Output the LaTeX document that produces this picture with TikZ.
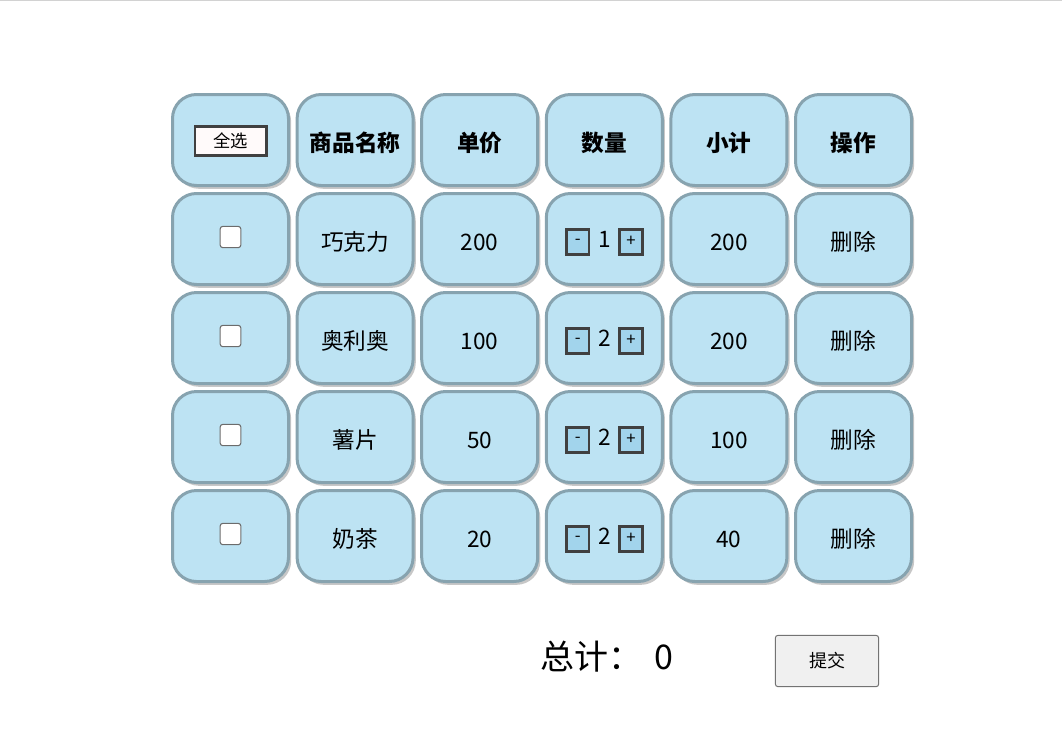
\documentclass[tikz,border=0pt]{standalone}
\usepackage{fontspec}
\setmainfont{Noto Sans CJK SC}
\usetikzlibrary{positioning,shadows}
\definecolor{cellblue}{HTML}{BDE3F3}
\definecolor{cellline}{HTML}{87A3AF}
\definecolor{btnblue}{HTML}{A2D4EC}
\definecolor{btnline}{HTML}{404040}
\tikzset{
  cell/.style={draw=cellline, fill=cellblue, line width=2.25pt, rounded corners=18pt,
    minimum width=87pt, minimum height=68.25pt, inner sep=0pt,
    text height=18pt, text depth=0.6pt,
    font=\fontsize{17}{17}\selectfont,
    drop shadow={shadow xshift=2pt, shadow yshift=-2.5pt, fill=black, opacity=0.22}},
  head/.style={cell, font=\fontsize{17}{17}\selectfont\bfseries},
  chkbox/.style={draw=gray!85!black, fill=white, line width=0.8pt, rounded corners=2pt,
    minimum width=15.5pt, minimum height=16pt, inner sep=0pt},
  qtybtn/.style={draw=btnline, fill=btnblue, line width=2pt, minimum width=17pt,
    minimum height=18.75pt, inner sep=0pt, font=\fontsize{12.5}{12.5}\selectfont},
  allbtn/.style={draw=btnline, fill=red!2, line width=1.9pt, minimum width=53.6pt,
    minimum height=21.4pt, inner sep=0pt, font=\fontsize{13}{13}\selectfont},
  submitbtn/.style={draw=gray!90!black, fill=gray!12, line width=0.75pt, rounded corners=2pt,
    minimum width=77.5pt, minimum height=38.5pt, font=\fontsize{13.5}{13.5}\selectfont}
}
\begin{document}
\begin{tikzpicture}[x=0.75pt, y=-0.75pt]
  \useasboundingbox (0,0) rectangle (1062,732);
  \draw[gray!35, line width=0.75pt] (0,0.5)--(1062,0.5);
  % header row
  \node[head] (hd1) at (230.5,140) {};
  \node[allbtn] (selall) at ([yshift=-0.75pt]hd1.center) {全选};
  \node[head] (hd2) at (355.1,140) {商品名称};
  \node[head] (hd3) at (479.7,140) {单价};
  \node[head] (hd4) at (604.3,140) {数量};
  \node[head] (hd5) at (728.9,140) {小计};
  \node[head] (hd6) at (853.5,140) {操作};
  % goods rows
  \foreach \name/\price/\qty/\sub [count=\r] in {巧克力/200/1/200, 奥利奥/100/2/200, 薯片/50/2/100, 奶茶/20/2/40} {
    \node[cell] (r\r c1) at (230.5,{140+99*\r}) {};
    \node[chkbox] (r\r box) at ([yshift=1.5pt]r\r c1.center) {};
    \node[cell] (r\r c2) at (355.1,{140+99*\r}) {\name};
    \node[cell] (r\r c3) at (479.7,{140+99*\r}) {\price};
    \node[cell] (r\r c4) at (604.3,{140+99*\r}) {};
    \node[font=\fontsize{17}{17}\selectfont] (r\r num) at ([yshift=-0.5pt]r\r c4.center) {\qty};
    \node[qtybtn] (r\r minus) at ([xshift=-20pt,yshift=-2pt]r\r c4.center) {-};
    \node[qtybtn] (r\r plus) at ([xshift=20pt,yshift=-2pt]r\r c4.center) {+};
    \node[cell] (r\r c5) at (728.9,{140+99*\r}) {\sub};
    \node[cell] (r\r c6) at (853.5,{140+99*\r}) {删除};
  }
  % total and submit
  \node[anchor=west, inner sep=0pt, font=\fontsize{25.5}{25.5}\selectfont] (totlabel) at (540,657) {总计：};
  \node[inner sep=0pt, font=\fontsize{25.5}{25.5}\selectfont] (totval) at (664,657) {0};
  \node[submitbtn] (submit) at (827,661) {提交};
\end{tikzpicture}
\end{document}
